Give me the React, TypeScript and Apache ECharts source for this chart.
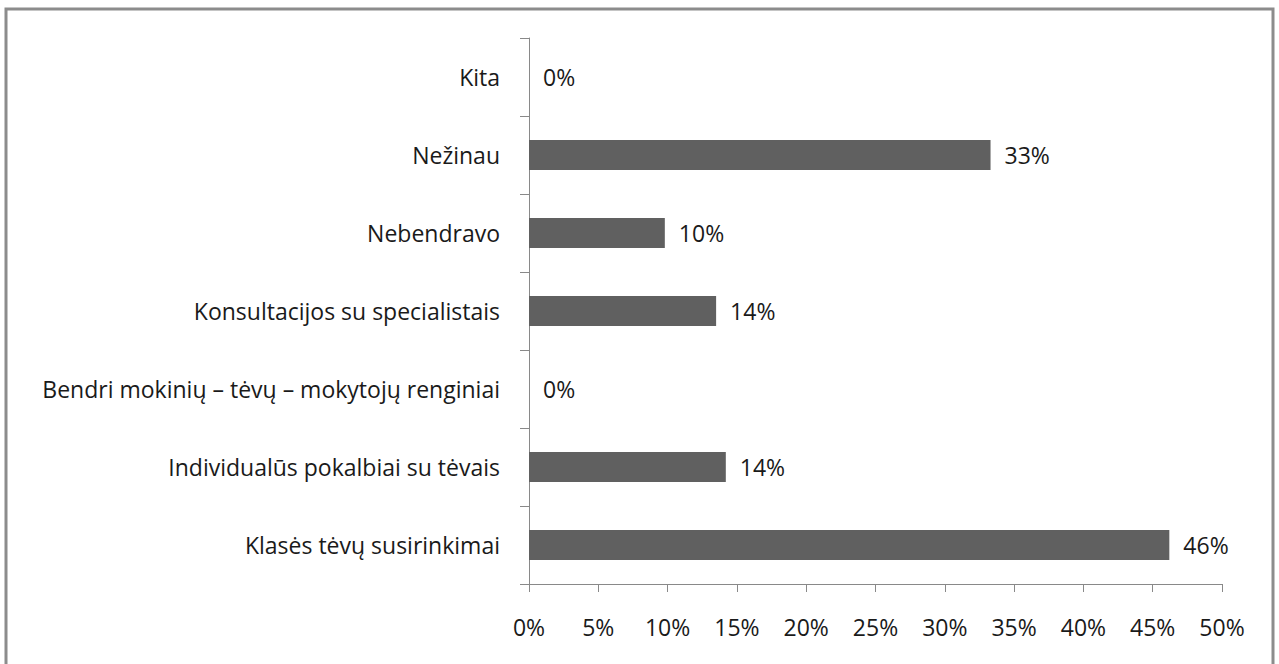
import React, { useEffect, useRef } from "react";
import * as echarts from "echarts";

const categories = [
  "Klasės tėvų susirinkimai",
  "Individualūs pokalbiai su tėvais",
  "Bendri mokinių – tėvų – mokytojų renginiai",
  "Konsultacijos su specialistais",
  "Nebendravo",
  "Nežinau",
  "Kita",
];
const values = [46.2, 14.2, 0, 13.5, 9.8, 33.3, 0];
const FONT = "Open Sans";
const FS = 23;

export default function App() {
  const ref = useRef<HTMLDivElement>(null);
  useEffect(() => {
    if (!ref.current) return;
    const chart = echarts.init(ref.current, undefined, { renderer: "svg" });
    chart.setOption({
      animation: false,
      backgroundColor: "#ffffff",
      textStyle: { fontFamily: FONT },
      grid: { left: 529, right: 57, top: 38, bottom: 80, containLabel: false },
      xAxis: {
        type: "value",
        min: 0,
        max: 50,
        interval: 5,
        axisLine: { show: true, lineStyle: { color: "#898989", width: 1 } },
        axisTick: { show: true, length: 8, lineStyle: { color: "#898989" } },
        splitLine: { show: false },
        axisLabel: {
          formatter: "{value}%",
          color: "#1a1a1a",
          fontSize: FS,
          fontFamily: FONT,
          margin: 31,
        },
      },
      yAxis: {
        type: "category",
        data: categories,
        axisLine: { show: true, lineStyle: { color: "#898989", width: 1 } },
        axisTick: { show: true, length: 9, alignWithLabel: false, lineStyle: { color: "#898989" } },
        axisLabel: { color: "#1a1a1a", fontSize: FS, fontFamily: FONT, margin: 29 },
      },
      series: [
        {
          type: "bar",
          data: values,
          barWidth: 30,
          itemStyle: { color: "#606060" },
          label: {
            show: true,
            position: "right",
            distance: 14,
            color: "#1a1a1a",
            fontSize: FS,
            fontFamily: FONT,
            formatter: (p: any) => Math.round(p.value) + "%",
          },
        },
      ],
      graphic: [
        {
          type: "rect",
          shape: { x: 6, y: 9, width: 1267, height: 700 },
          style: { fill: "none", stroke: "#8c8c8c", lineWidth: 3 },
          silent: true,
        },
      ],
    });
    return () => chart.dispose();
  }, []);
  return (
    <div
      ref={ref}
      style={{ position: "absolute", left: 0, top: 0, width: 1279, height: 664 }}
    />
  );
}
